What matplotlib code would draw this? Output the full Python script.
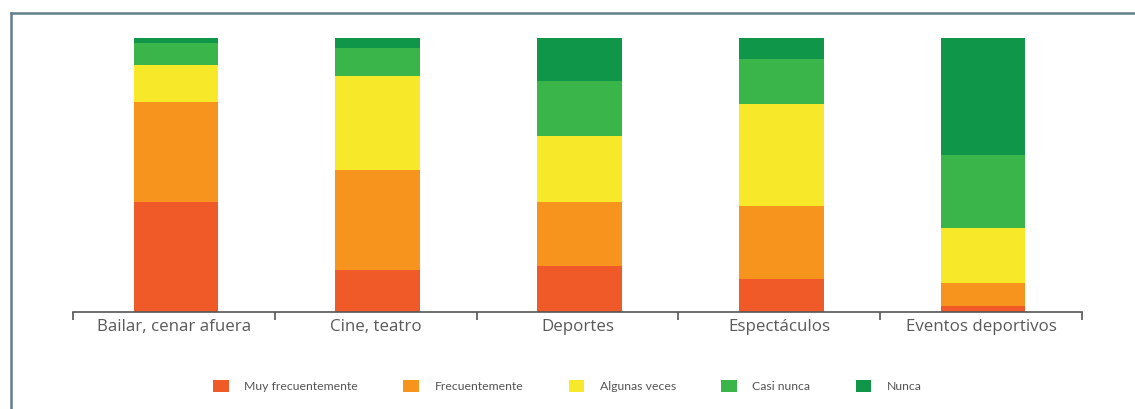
import matplotlib.pyplot as plt
import numpy as np
from matplotlib.lines import Line2D

categories = ["Bailar, cenar afuera", "Cine, teatro", "Deportes", "Espectáculos", "Eventos deportivos"]
series = ["Muy frecuentemente", "Frecuentemente", "Algunas veces", "Casi nunca", "Nunca"]

muy_frec = [40.0, 15.4, 16.7, 12.0, 2.3]
frec = [36.5, 36.3, 23.4, 26.8, 8.2]
algunas = [13.8, 34.3, 24.2, 37.1, 20.0]
casi_nunca = [7.7, 10.5, 20.0, 16.4, 26.9]
nunca = [2.0, 3.5, 15.7, 7.7, 42.6]

colors = ["#f05a28", "#f7941d", "#f7e92a", "#39b54a", "#0f9648"]

W, H = 1135, 409
fig = plt.figure(figsize=(W / 100, H / 100), dpi=100)
plt.rcParams['font.family'] = ['Lato', 'DejaVu Sans']

# frame around the chart (only top and left visible in the crop)
fig.add_artist(Line2D([11 / W, 11 / W], [0, 1 - 13 / H], transform=fig.transFigure,
                      color="#627f8e", lw=1.8))
fig.add_artist(Line2D([11 / W, 1], [1 - 13 / H, 1 - 13 / H], transform=fig.transFigure,
                      color="#627f8e", lw=1.8))

ax = fig.add_axes([73 / W, 97 / H, (1082 - 73) / W, (312 - 38) / H])

x = np.arange(len(categories))
total = np.array(muy_frec) + np.array(frec) + np.array(algunas) + np.array(casi_nunca) + np.array(nunca)
bottom = np.zeros(len(categories))
for name, vals, c in zip(series, [muy_frec, frec, algunas, casi_nunca, nunca], colors):
    v = np.array(vals) / total * 100
    ax.bar(x + 0.01, v, width=0.42, bottom=bottom, color=c, label=name, linewidth=0)
    bottom += v

ax.set_xlim(-0.5, len(categories) - 0.5)
ax.set_ylim(0, 100)
for s in ["top", "right", "left"]:
    ax.spines[s].set_visible(False)
ax.spines["bottom"].set_color("#555555")
ax.spines["bottom"].set_linewidth(1.2)
ax.set_yticks([])
ax.set_xticks(np.arange(-0.5, len(categories)))
ax.set_xticklabels([])
ax.tick_params(axis="x", length=6, width=1.2, color="#555555", direction="out")
for i, cat in enumerate(categories):
    ax.text(i, -2.6, cat, ha="center", va="top", fontsize=12.2, color="#5a5a5a",
            family=["Open Sans", "DejaVu Sans"])

handles, labels = ax.get_legend_handles_labels()
fig.legend(handles, labels, loc="center", bbox_to_anchor=(0.5, 1 - 386 / H), ncol=5,
           frameon=False, fontsize=8.8, handlelength=1.25, handleheight=1.15,
           columnspacing=3.7, handletextpad=1.3, labelcolor="#555555")

fig.savefig("out.png", dpi=100)
